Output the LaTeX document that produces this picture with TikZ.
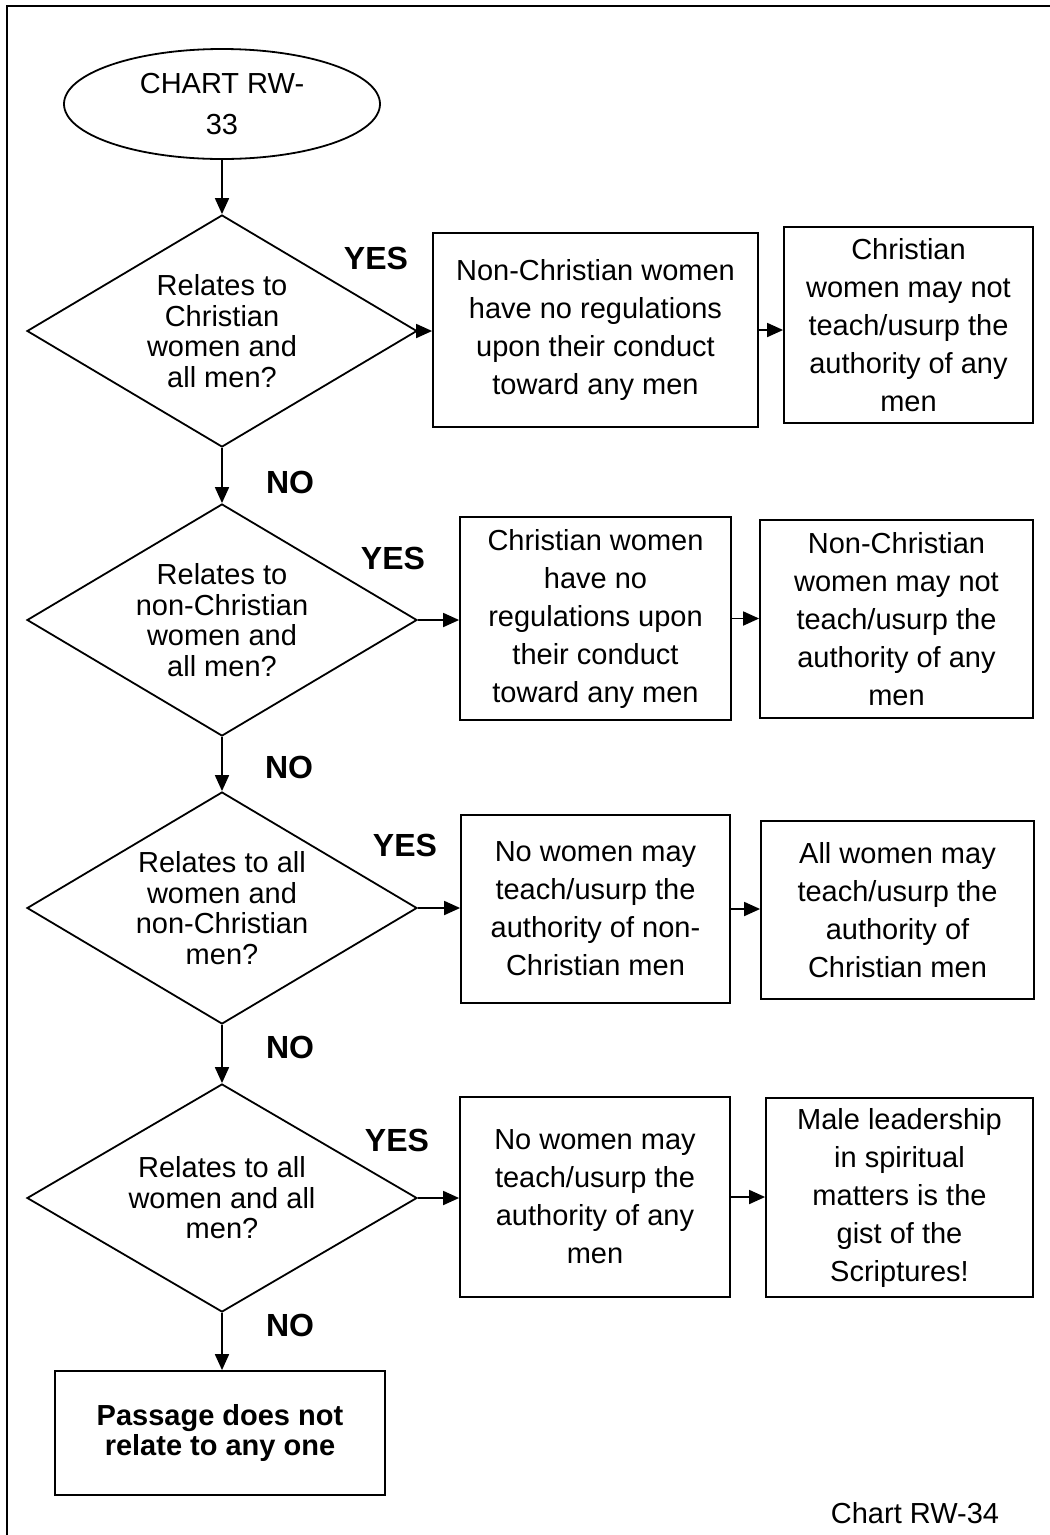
\documentclass[tikz,border=0pt]{standalone}
\usepackage{fontspec}
\setmainfont{Liberation Sans}
\usetikzlibrary{shapes.geometric,arrows.meta}
\begin{document}
\begin{tikzpicture}[x=1pt,y=-1pt,line width=1.8pt,
  boxtxt/.style={draw,rectangle,align=center,inner sep=0pt,font=\fontsize{29}{38}\selectfont},
  dec/.style={draw,diamond,aspect=1.68,inner sep=0pt,minimum width=390pt,minimum height=232pt,align=center,font=\fontsize{29}{30.5}\selectfont},
  lbl/.style={font=\bfseries\fontsize{32}{38}\selectfont,inner sep=0pt},
  arr/.style={-{Triangle[length=16pt,width=14pt]}}]
\useasboundingbox (0,0) rectangle (1050,1535);
% frame
\draw (7,1540) -- (7,6) -- (1055,6);
% start
\node[draw,ellipse,inner sep=0pt,minimum width=316pt,minimum height=110pt,align=center,font=\fontsize{29}{41}\selectfont] (start) at (222,104) {CHART RW-\\33};
% decisions
\node[dec] (d1) at (222,331) {Relates to\\Christian\\women and\\all men?};
\node[dec] (d2) at (222,620) {Relates to\\non-Christian\\women and\\all men?};
\node[dec] (d3) at (222,908) {Relates to all\\women and\\non-Christian\\men?};
\node[dec,minimum height=228pt] (d4) at (222,1198) {Relates to all\\women and all\\men?};
% boxes
\node[boxtxt,minimum width=325pt,minimum height=194pt] (a1) at (595.5,330) {Non-Christian women\\have no regulations\\upon their conduct\\toward any men};
\node[boxtxt,minimum width=249pt,minimum height=196pt] (b1) at (908.5,325) {Christian\\women may not\\teach/usurp the\\authority of any\\men};
\node[boxtxt,minimum width=271pt,minimum height=203pt] (a2) at (595.5,618.5) {Christian women\\have no\\regulations upon\\their conduct\\toward any men};
\node[boxtxt,minimum width=273pt,minimum height=198pt] (b2) at (896.5,619) {Non-Christian\\women may not\\teach/usurp the\\authority of any\\men};
\node[boxtxt,minimum width=269pt,minimum height=188pt] (a3) at (595.5,909) {No women may\\teach/usurp the\\authority of non-\\Christian men};
\node[boxtxt,minimum width=273pt,minimum height=178pt] (b3) at (897.5,910) {All women may\\teach/usurp the\\authority of\\Christian men};
\node[boxtxt,minimum width=270pt,minimum height=200pt] (a4) at (595,1197) {No women may\\teach/usurp the\\authority of any\\men};
\node[boxtxt,minimum width=267pt,minimum height=199pt] (b4) at (899.5,1197.5) {Male leadership\\in spiritual\\matters is the\\gist of the\\Scriptures!};
\node[draw,rectangle,align=center,inner sep=0pt,minimum width=330pt,minimum height=124pt,font=\bfseries\fontsize{29}{30}\selectfont] (fin) at (220,1433) {Passage does not\\relate to any one};
% labels
\node[lbl] (y1) at (376,258) {YES};
\node[lbl] (y2) at (393,558) {YES};
\node[lbl] (y3) at (405,845) {YES};
\node[lbl] (y4) at (397,1140) {YES};
\node[lbl] (n1) at (290,482) {NO};
\node[lbl] (n2) at (289,767) {NO};
\node[lbl] (n3) at (290,1047) {NO};
\node[lbl] (n4) at (290,1325) {NO};
\node[font=\fontsize{29}{34}\selectfont,inner sep=0pt] (chart) at (915,1513) {Chart RW-34};
% connectors
\draw[arr] (start.south) -- (d1.north);
\draw[arr] (d1.south) -- (d2.north);
\draw[arr] (d2.south) -- (d3.north);
\draw[arr] (d3.south) -- (d4.north);
\draw[arr] (d4.south) -- (d4.south |- fin.north);
\draw[arr] (d1.east) -- (d1.east -| a1.west);
\draw[arr] (d2.east) -- (d2.east -| a2.west);
\draw[arr] (d3.east) -- (d3.east -| a3.west);
\draw[arr] (d4.east) -- (d4.east -| a4.west);
\draw[arr] (a1.east) -- (a1.east -| b1.west);
\draw[arr] (a2.east) -- (a2.east -| b2.west);
\draw[arr] (a3.east) -- (a3.east -| b3.west);
\draw[arr] (a4.east) -- (a4.east -| b4.west);
\end{tikzpicture}
\end{document}
